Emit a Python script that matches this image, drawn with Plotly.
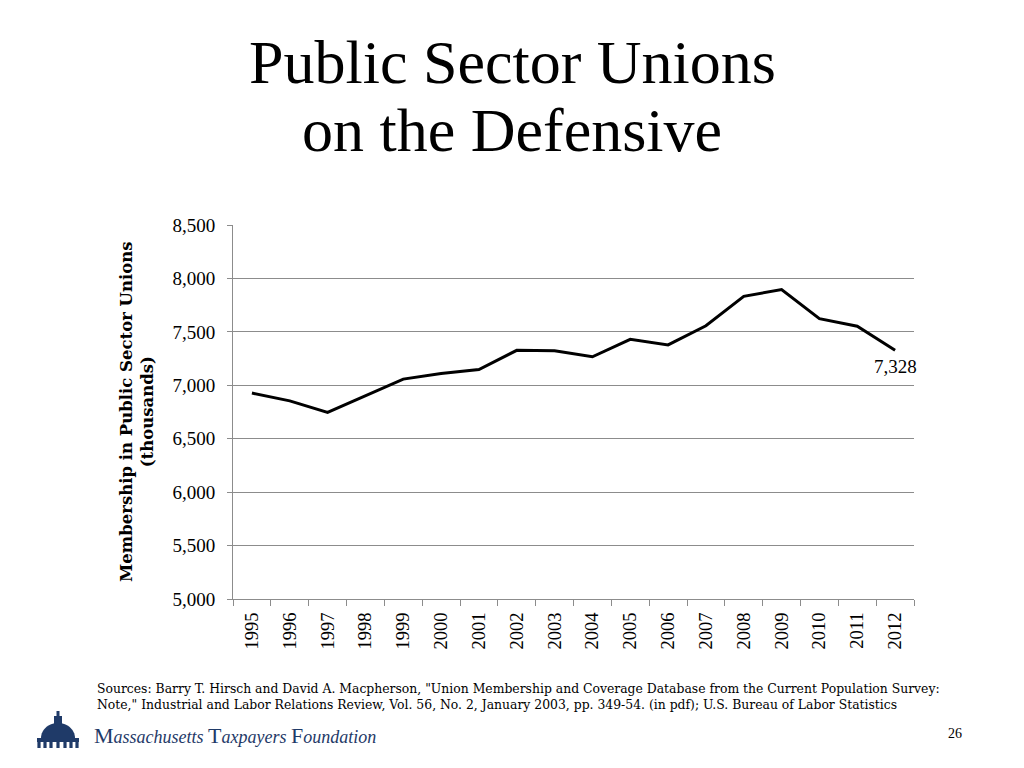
import math
import plotly.graph_objects as go

years = [str(y) for y in range(1995, 2013)]
members = [6927, 6854, 6747, 6905, 7058, 7111, 7147, 7327, 7324, 7267,
           7430, 7378, 7557, 7832, 7896, 7623, 7553, 7328]
y_ticks = [5000, 5500, 6000, 6500, 7000, 7500, 8000, 8500]

# page body has an 8px margin; work in page pixels and convert
OFF = 8
W, H = 1024 - 2 * OFF, 768 - 2 * OFF
L, R, T, B = 233, 914, 225, 599  # plot area in page pixels


def px(x):
    return (x - L) / (R - L)


def py(y):
    return (B - y) / (B - T)


fig = go.Figure()
fig.add_trace(go.Scatter(x=years, y=members, mode="lines",
                         line=dict(color="black", width=3), hoverinfo="skip",
                         showlegend=False))

grid = "#8c8c8c"
fig.update_layout(
    width=W, height=H,
    margin=dict(l=L - OFF, r=(1024 - OFF) - R, t=T - OFF, b=(768 - OFF) - B),
    paper_bgcolor="white", plot_bgcolor="white",
    font=dict(family="Liberation Serif", color="black"),
    xaxis=dict(type="category", range=[-0.5, 17.5], tickson="boundaries",
               ticks="outside", ticklen=6, tickcolor=grid, showline=True,
               linecolor=grid, linewidth=1, showgrid=False, tickangle=-90,
               ticklabelstandoff=5,
               tickfont=dict(size=18.5, family="Liberation Serif")),
    yaxis=dict(range=[5000, 8500], tickvals=y_ticks, tickformat=",",
               ticks="outside", ticklen=5, tickcolor=grid, showline=True,
               linecolor=grid, showgrid=True, gridcolor=grid, gridwidth=1,
               zeroline=False, ticklabelstandoff=8,
               tickfont=dict(size=19, family="Liberation Serif")),
)

ann = []
# title (two lines)
for txt, yc in [("Public Sector Unions", 62), ("on the Defensive", 130)]:
    ann.append(dict(text=txt, x=px(512), y=py(yc), xref="paper", yref="paper",
                    showarrow=False, xanchor="center", yanchor="middle",
                    font=dict(size=62, family="Liberation Serif")))
# y axis title
ann.append(dict(text="<b>Membership in Public Sector Unions<br>(thousands)</b>",
                x=px(137), y=py(412), xref="paper", yref="paper", showarrow=False,
                textangle=-90, xanchor="center", yanchor="middle",
                font=dict(size=16.5, family="DejaVu Serif")))
# data label on last point
ann.append(dict(text=f"{members[-1]:,}", x=len(years) - 1, y=members[-1], xref="x", yref="y",
                showarrow=False, xanchor="center", yanchor="top", yshift=-4,
                font=dict(size=19, family="Liberation Serif")))
# sources
ann.append(dict(text='Sources: Barry T. Hirsch and David A. Macpherson, "Union Membership and Coverage Database from the Current Population Survey:<br>'
                     'Note," Industrial and Labor Relations Review, Vol. 56, No. 2, January 2003, pp. 349-54. (in pdf); U.S. Bureau of Labor Statistics',
                x=px(95), y=py(696), xref="paper", yref="paper", showarrow=False,
                xanchor="left", yanchor="middle", align="left",
                font=dict(size=12.4, family="DejaVu Serif")))
# logo text
navy = "#1f3a68"
cap = '<span style="font-size:22px;font-style:normal">{}</span>'
ann.append(dict(text=cap.format("M") + "assachusetts " + cap.format("T") + "axpayers "
                + cap.format("F") + "oundation",
                x=px(92), y=py(735), xref="paper", yref="paper", showarrow=False,
                xanchor="left", yanchor="middle",
                font=dict(size=18, family="Liberation Serif", color=navy, style="italic")))
# page number
ann.append(dict(text="26", x=px(955), y=py(733), xref="paper", yref="paper",
                showarrow=False, xanchor="center", yanchor="middle",
                font=dict(size=14, family="Liberation Serif")))
fig.update_layout(annotations=ann)

# logo dome drawing
shapes = []


def rect(x0, y0, x1, y1):
    shapes.append(dict(type="rect", xref="paper", yref="paper", x0=px(x0), x1=px(x1),
                       y0=py(y1), y1=py(y0), fillcolor=navy, line=dict(width=0)))


rect(56.5, 711, 59.5, 716)   # lantern top
rect(54, 716, 62, 724)       # lantern
pts = []
cx, cy, rx, ry = 58, 738, 17, 15
for i in range(0, 31):
    a = math.pi * i / 30
    pts.append((cx - rx * math.cos(a), cy - ry * math.sin(a)))
path = "M " + " L ".join(f"{px(x):.5f},{py(y):.5f}" for x, y in pts) + " Z"
shapes.append(dict(type="path", xref="paper", yref="paper", path=path,
                   fillcolor=navy, line=dict(width=0)))
rect(37, 738, 79, 742)   # base band
for cxp in [39, 45, 51, 58, 65, 71, 77]:
    rect(cxp - 1.6, 742, cxp + 1.6, 748)
fig.update_layout(shapes=shapes)

fig.write_html("out.html")
